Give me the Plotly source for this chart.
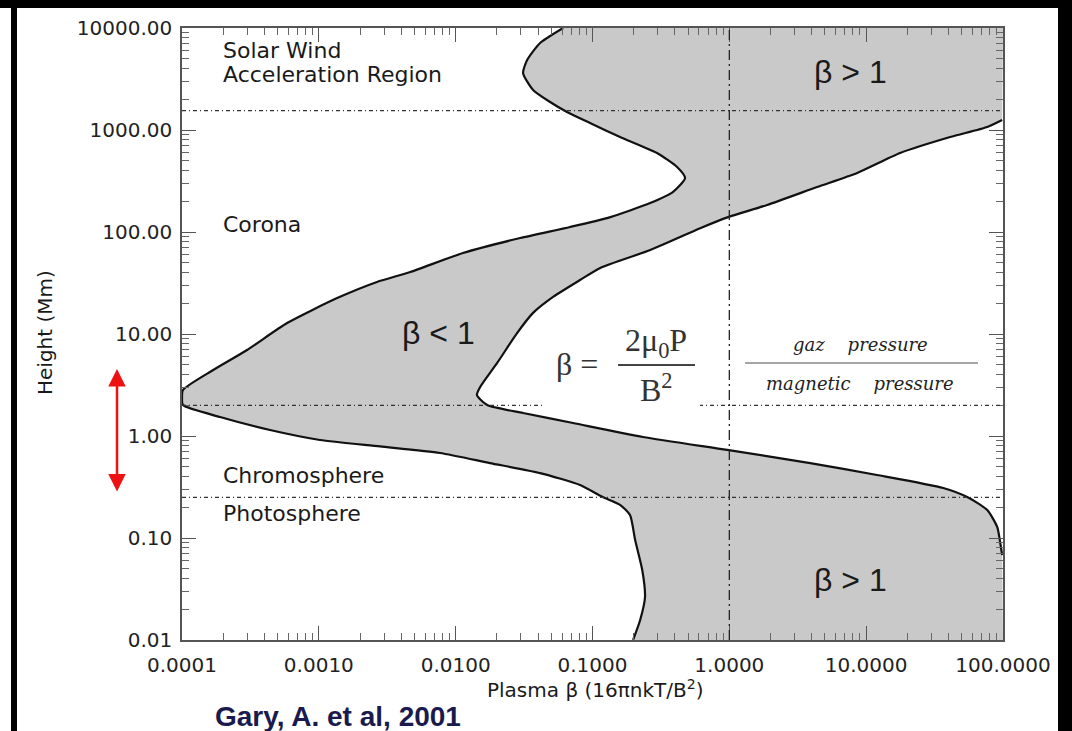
import plotly.graph_objects as go

# ---------------- data ----------------
# left edge of the shaded band (lowest plasma beta), from top to bottom
beta_low = [0.061, 0.0414, 0.0333, 0.0311, 0.0368, 0.049, 0.0651, 0.0959, 0.159, 0.296,
            0.415, 0.475, 0.388, 0.264, 0.135, 0.0686, 0.0296, 0.0113, 0.00465, 0.00266,
            0.00136, 0.000586, 0.000299, 0.000169, 0.0001016, 0.0001, 0.0001016, 0.00019,
            0.00044, 0.00102, 0.0028, 0.00769, 0.0178, 0.0414, 0.0811, 0.119, 0.159, 0.188,
            0.205, 0.231, 0.242, 0.223, 0.198]
height_low = [10000, 7130, 4850, 3620, 2470, 1880, 1500, 1170, 853, 595,
              434, 338, 247, 192, 140, 112, 87.3, 62.2, 40.5, 32.4,
              22.5, 12.8, 6.97, 4.44, 2.83, 2.36, 2.01, 1.535,
              1.145, 0.914, 0.79, 0.681, 0.543, 0.433, 0.331, 0.252, 0.211, 0.168,
              0.0955, 0.0485, 0.0264, 0.0157, 0.01]

# right edge of the shaded band (highest plasma beta), from top to bottom
beta_high = [100, 98.6, 76.7, 41.1, 17.7, 8.59, 4.38, 1.89, 0.98, 0.612,
             0.264, 0.114, 0.081, 0.0515, 0.0368, 0.0281, 0.0201, 0.0151, 0.0143, 0.017,
             0.0311, 0.0721, 0.234, 0.964, 3.9, 12.0, 36.6, 54.7, 76.7, 90.8,
             95.5, 98.6, 100]
height_high = [10000, 1253, 1070, 853, 595, 379, 276, 184, 140, 109,
               66.6, 44.4, 33.8, 23.1, 16.1, 10.2, 5.2, 3.02, 2.52, 2.01,
               1.68, 1.34, 0.977, 0.73, 0.543, 0.415, 0.309, 0.252, 0.188, 0.128,
               0.0893, 0.068, 0.01]

region_heights = [1550, 2.0, 0.25]      # dotted region boundaries (Mm)
beta_unity = 1.0                         # dash-dot line beta = 1

x_tickvals = [0.0001, 0.001, 0.01, 0.1, 1, 10, 100]
x_ticktext = ["0.0001", "0.0010", "0.0100", "0.1000", "1.0000", "10.0000", "100.0000"]
y_tickvals = [0.01, 0.1, 1, 10, 100, 1000, 10000]
y_ticktext = ["0.01", "0.10", "1.00", "10.00", "100.00", "1000.00", "10000.00"]
minor_digits = [2, 3, 4, 5, 6, 7, 8, 9]

# ---------------- layout helpers (pixel -> paper) ----------------
W, H = 1072, 731
L, R, T, B = 182, 1003, 28, 640


def px(x):
    return (x - L) / (R - L)


def py(y):
    return (B - y) / (B - T)


SANS = "DejaVu Sans"
ARIAL = "Liberation Sans"
SERIF = "Liberation Serif"

fig = go.Figure()

# shaded band: left edge top->bottom, then right edge bottom->top
poly_x = beta_low + beta_high[::-1]
poly_y = height_low + height_high[::-1]
fig.add_trace(go.Scatter(x=poly_x, y=poly_y, mode="lines", fill="toself",
                         fillcolor="#c9c9c9", line=dict(width=0, color="#c9c9c9"),
                         hoverinfo="skip", showlegend=False))
fig.add_trace(go.Scatter(x=beta_low, y=height_low, mode="lines",
                         line=dict(color="#111111", width=2.2, shape="spline", smoothing=0.6),
                         hoverinfo="skip", showlegend=False))
fig.add_trace(go.Scatter(x=beta_high[1:-1], y=height_high[1:-1], mode="lines",
                         line=dict(color="#111111", width=2.2, shape="spline", smoothing=0.6),
                         hoverinfo="skip", showlegend=False))

shapes = []
for h in region_heights:
    shapes.append(dict(type="line", xref="paper", x0=0, x1=1, yref="y", y0=h, y1=h,
                       line=dict(color="#333333", width=1.2, dash="4px,3px,1px,3px"),
                       layer="above"))
shapes.append(dict(type="line", xref="x", x0=beta_unity, x1=beta_unity, yref="paper", y0=0, y1=1,
                   line=dict(color="#222222", width=1.3, dash="10px,4px,2px,4px"), layer="above"))
# white box behind the formula
shapes.append(dict(type="rect", xref="paper", yref="paper", x0=px(543), x1=px(700),
                   y0=py(410), y1=py(318), fillcolor="white", line=dict(width=0), layer="above"))
# fraction bars
shapes.append(dict(type="line", xref="paper", yref="paper", x0=px(618), x1=px(695),
                   y0=py(365), y1=py(365), line=dict(color="#444444", width=2), layer="above"))
shapes.append(dict(type="line", xref="paper", yref="paper", x0=px(745), x1=px(978),
                   y0=py(363), y1=py(363), line=dict(color="#888888", width=1.5), layer="above"))
# black frame of the screenshot
for x0, x1, y0, y1 in [(0, W, 0, 8), (11, 17, 0, H), (1058, W, 0, H)]:
    shapes.append(dict(type="rect", xref="paper", yref="paper", x0=px(x0), x1=px(x1),
                       y0=py(y1), y1=py(y0), fillcolor="black", line=dict(width=0), layer="above"))

annotations = []


def txt(text, x, y, size, family=SANS, color="#1a1a1a", xanchor="left", **kw):
    annotations.append(dict(text=text, x=px(x), y=py(y), xref="paper", yref="paper",
                            xanchor=xanchor, yanchor="middle", showarrow=False,
                            font=dict(family=family, size=size, color=color), **kw))


txt("Solar Wind", 221, 51, 22)
txt("Acceleration Region", 221, 75, 22)
txt("Corona", 221, 225, 22)
txt("Chromosphere", 221, 475, 22)
txt("Photosphere", 221, 513, 22)
txt("β > 1", 850, 72, 32, family=ARIAL, xanchor="center")
txt("β > 1", 850, 580, 32, family=ARIAL, xanchor="center")
txt("β < 1", 438, 333, 32, family=ARIAL, xanchor="center")
txt("β =", 577, 364, 32, family=SERIF, color="#333333", xanchor="center")
txt("2μ<sub>0</sub>P", 656, 343, 32, family=SERIF, color="#333333", xanchor="center")
txt("B<sup>2</sup>", 656, 388, 32, family=SERIF, color="#333333", xanchor="center")
txt("<i>gaz\u00a0\u00a0\u00a0\u00a0pressure</i>", 860, 345, 18, family="DejaVu Serif",
    color="#222222", xanchor="center")
txt("<i>magnetic\u00a0\u00a0\u00a0\u00a0pressure</i>", 860, 384, 18, family="DejaVu Serif",
    color="#222222", xanchor="center")
txt("Height (Mm)", 45, 333, 20, xanchor="center", textangle=-90)
txt("Plasma β (16πnkT/B<sup>2</sup>)", 595, 689, 20, xanchor="center")
txt("<b>Gary, A. et al, 2001</b>", 213, 716, 28, family=ARIAL, color="#1a1a4e")

# red double arrow
annotations.append(dict(text="", x=px(117), y=py(369), xref="paper", yref="paper",
                        showarrow=True, ax=0, ay=124, axref="pixel", ayref="pixel",
                        arrowside="end+start", arrowhead=2, arrowsize=1.4, arrowwidth=2.5,
                        arrowcolor="#ee1111", standoff=0, startstandoff=0))


def minor_vals(majors):
    return [d * m for m in majors[:-1] for d in minor_digits]


def axis_dict(majors, labels, rng, standoff):
    return dict(type="log", range=rng, showgrid=False, zeroline=False, showline=True,
                linecolor="#555555", linewidth=1.5, mirror="ticks",
                tickmode="array", tickvals=majors, ticktext=labels,
                ticks="inside", ticklen=14, tickwidth=1.2, tickcolor="#555555",
                minor=dict(ticks="inside", ticklen=7, tickwidth=1, tickcolor="#666666",
                           tickmode="array", tickvals=minor_vals(majors), showgrid=False),
                tickfont=dict(family=SANS, size=20, color="#222222"),
                ticklabelstandoff=standoff)


fig.update_layout(
    width=W, height=H,
    margin=dict(l=L, r=W - R, t=T, b=H - B, autoexpand=False),
    paper_bgcolor="white", plot_bgcolor="white",
    showlegend=False,
    xaxis=axis_dict(x_tickvals, x_ticktext, [-4, 2], 6),
    yaxis=axis_dict(y_tickvals, y_ticktext, [-2, 4], 4),
    shapes=shapes,
    annotations=annotations,
)

fig.write_html("out.html", config={"displayModeBar": False},
               post_script="document.body.style.margin='0';document.body.style.overflow='hidden';")
